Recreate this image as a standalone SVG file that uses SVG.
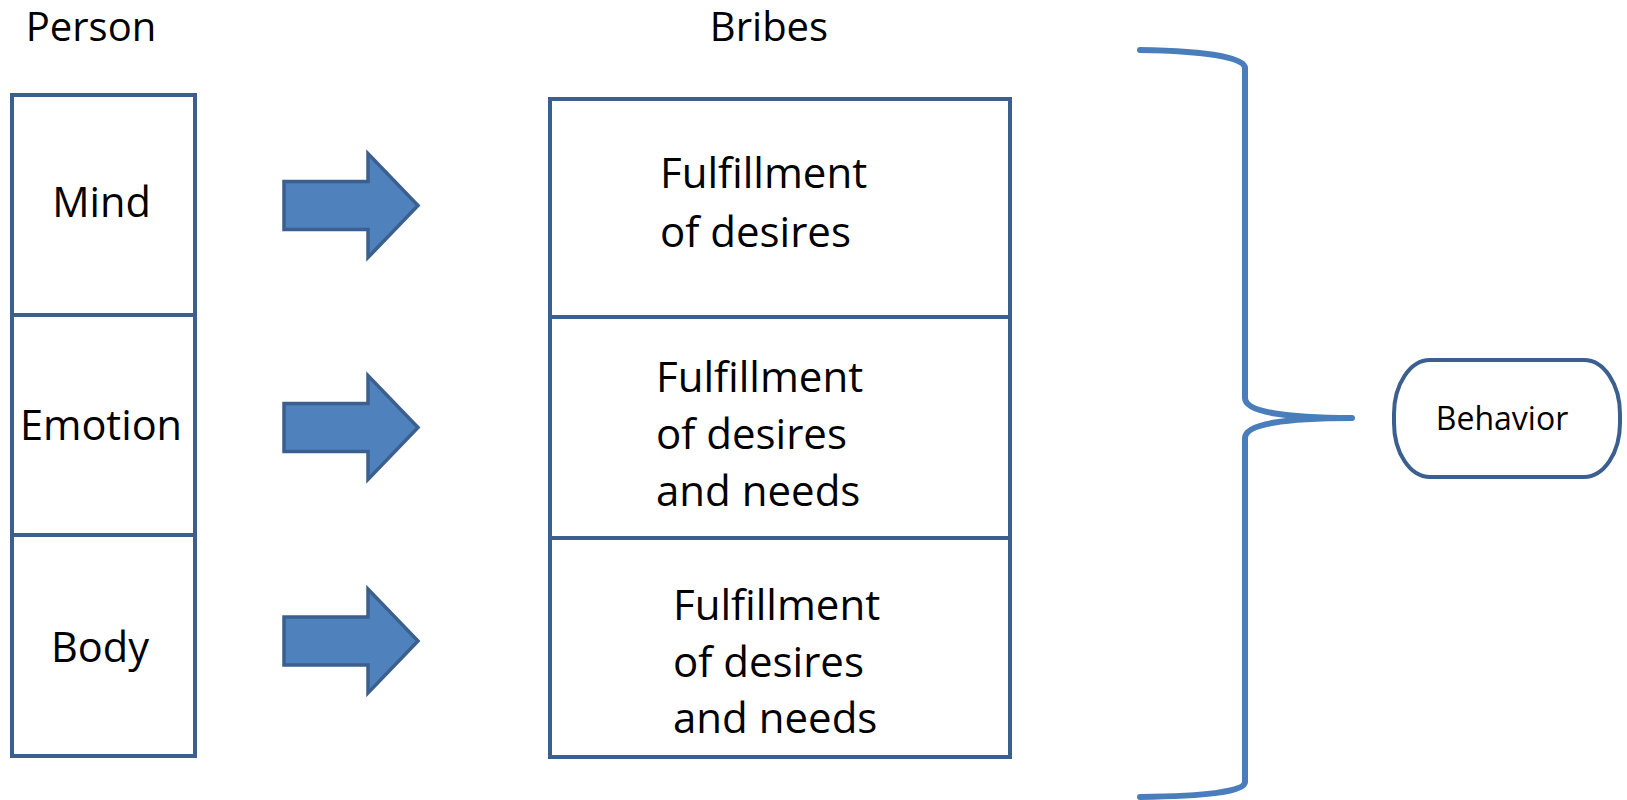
<svg xmlns="http://www.w3.org/2000/svg" width="1627" height="800" viewBox="0 0 1627 800">
<defs>
<style>
.box{fill:#ffffff;stroke:#3B5F8E;stroke-width:4}
.arrow{fill:#4F81BD;stroke:#3B5F8E;stroke-width:3.5;stroke-linejoin:miter}
.brace{fill:none;stroke:#4A7EBB;stroke-width:6;stroke-linecap:round;stroke-linejoin:round}
.t{font-family:"Open Sans","Liberation Sans",sans-serif;font-size:40px;fill:#000}
.c{text-anchor:middle}
.m{font-size:41.5px}
.f{font-size:42px}
.s{font-size:32px}
</style>
<path id="arr" d="M284,-24 L368,-24 L368,-52 L418,0 L368,52 L368,24 L284,24 Z"/>
</defs>
<rect width="1627" height="800" fill="#ffffff"/>
<text class="t c" x="91" y="41">Person</text>
<text class="t c" x="769" y="41">Bribes</text>
<g id="person">
  <g id="mind"><rect class="box" x="12" y="95" width="183" height="220"/><text class="t c m" x="101.5" y="217">Mind</text></g>
  <g id="emotion"><rect class="box" x="12" y="315" width="183" height="220"/><text class="t c m" x="101" y="440">Emotion</text></g>
  <g id="body"><rect class="box" x="12" y="535" width="183" height="221"/><text class="t c m" x="100" y="662">Body</text></g>
</g>
<g id="bribes">
  <g id="bribe1"><rect class="box" x="550" y="99" width="460" height="218"/><text class="t f" x="660" y="188">Fulfillment</text><text class="t f" x="660" y="247">of desires</text></g>
  <g id="bribe2"><rect class="box" x="550" y="317" width="460" height="221"/><text class="t f" x="656" y="392">Fulfillment</text><text class="t f" x="656" y="449">of desires</text><text class="t f" x="656" y="506">and needs</text></g>
  <g id="bribe3"><rect class="box" x="550" y="538" width="460" height="219"/><text class="t f" x="673" y="620">Fulfillment</text><text class="t f" x="673" y="677">of desires</text><text class="t f" x="673" y="733">and needs</text></g>
</g>
<g id="connectors">
  <use href="#arr" class="arrow" transform="translate(0,205.5)"/>
  <use href="#arr" class="arrow" transform="translate(0,427.5)"/>
  <use href="#arr" class="arrow" transform="translate(0,641)"/>
  <path class="brace" d="M1140,50 C1205,51 1245,57 1245,68 L1245,398 C1245,412 1285,418 1352,418 C1285,418 1245,424 1245,438 L1245,782 C1245,792 1205,796 1140,797"/>
</g>
<g id="behavior">
  <rect class="box" x="1394" y="360" width="226" height="117" rx="36" ry="54"/>
  <text class="t c s" x="1502" y="430">Behavior</text>
</g>
</svg>
